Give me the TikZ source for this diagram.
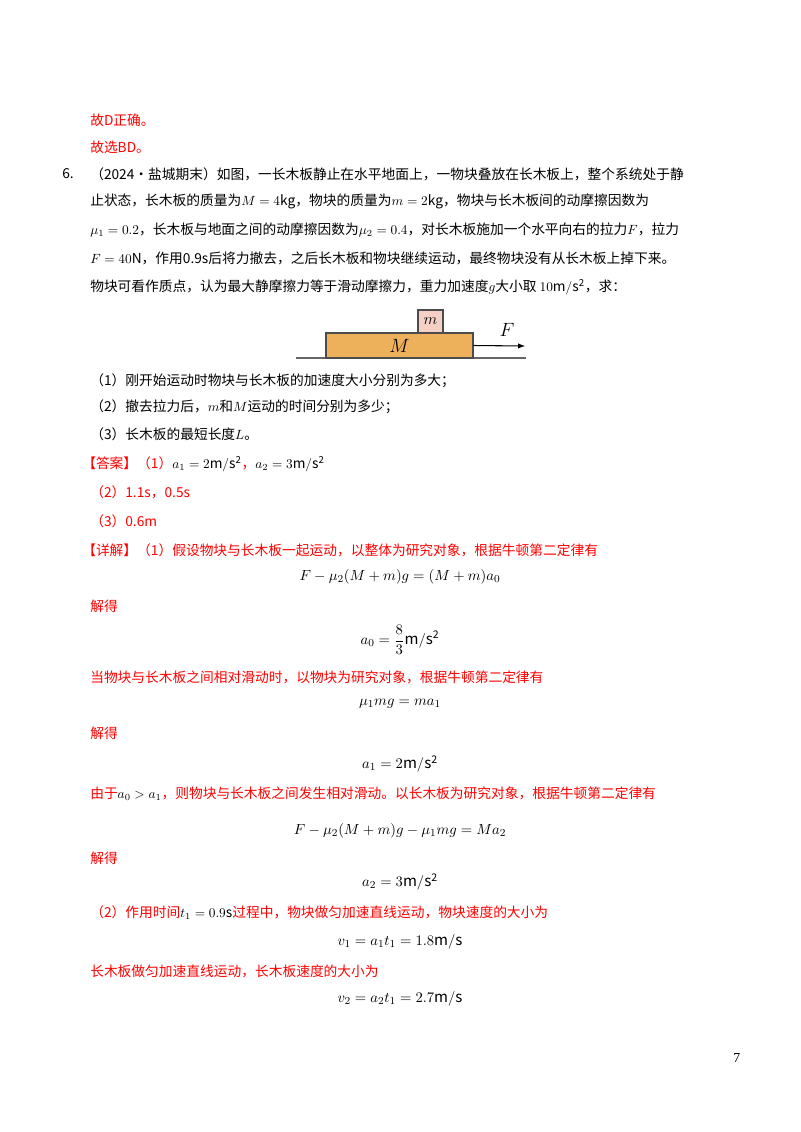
\documentclass[tikz,border=0pt]{standalone}
\usepackage{fontspec}
\setmainfont{Noto Sans CJK SC}
\newfontfamily\serif{Liberation Serif}
\definecolor{ansred}{RGB}{255,0,0}
\definecolor{boardc}{RGB}{237,177,92}
\definecolor{blockc}{RGB}{246,208,196}
\newcommand{\K}[1]{\textcolor{black}{$#1$}}
\begin{document}
\begin{tikzpicture}[x=0.75pt,y=-0.75pt,
  tl/.style={anchor=west,inner sep=0pt,font=\fontsize{10.3}{12}\selectfont},
  rl/.style={tl,text=ansred},
  eq/.style={anchor=center,inner sep=0pt,font=\fontsize{11.3}{13}\selectfont}]
\useasboundingbox (0,0) rectangle (800,1132);
\node[rl] (l1) at (90,120) {故D正确。};
\node[rl] (l2) at (90,147) {故选BD。};
\node[tl] (n6) at (62,174) {6.};
\node[tl] (q1) at (90,174) {（2024·盐城期末）如图，一长木板静止在水平地面上，一物块叠放在长木板上，整个系统处于静};
\node[tl] (q2) at (90,201) {止状态，长木板的质量为$M=4\mathrm{kg}$，物块的质量为$m=2\mathrm{kg}$，物块与长木板间的动摩擦因数为};
\node[tl] (q3) at (90,230) {$\mu_1=0.2$，长木板与地面之间的动摩擦因数为$\mu_2=0.4$，对长木板施加一个水平向右的拉力$F$，拉力};
\node[tl] (q4) at (90,258) {$F=40\mathrm{N}$，作用0.9s后将力撤去，之后长木板和物块继续运动，最终物块没有从长木板上掉下来。};
\node[tl] (q5) at (90,287) {物块可看作质点，认为最大静摩擦力等于滑动摩擦力，重力加速度$g$大小取 $10\mathrm{m/s^2}$，求：};
% figure
\coordinate (g1) at (296,358);
\coordinate (g2) at (526,358);
\draw[gray!80!black,line width=1pt] (g1) -- (g2);
\node[draw=black!70,fill=boardc,line width=0.8pt,minimum width=147*0.75pt,minimum height=25*0.75pt,inner sep=0pt] (board) at (399.5,345.5) {\fontsize{15}{16}\selectfont$M$};
\node[draw=black!70,fill=blockc,line width=0.8pt,minimum width=25*0.75pt,minimum height=23*0.75pt,inner sep=0pt] (block) at (430.5,321.5) {\fontsize{13}{14}\selectfont$m$};
\coordinate (fend) at (525,346);
\draw[-latex,line width=0.8pt] (board.east) -- (fend);
\node[inner sep=0pt] (F) at (507,330) {\fontsize{15}{16}\selectfont$F$};
% questions
\node[tl] (s1) at (90,381) {（1）刚开始运动时物块与长木板的加速度大小分别为多大；};
\node[tl] (s2) at (90,407) {（2）撤去拉力后，$m$和$M$运动的时间分别为多少；};
\node[tl] (s3) at (90,434) {（3）长木板的最短长度$L$。};
\node[rl] (a1) at (82,464) {【答案】（1）\K{a_1=2\mathrm{m/s^2}}，\K{a_2=3\mathrm{m/s^2}}};
\node[rl] (a2) at (90,492) {（2）1.1s，0.5s};
\node[rl] (a3) at (90,521) {（3）0.6m};
\node[rl] (d1) at (82,550) {【详解】（1）假设物块与长木板一起运动，以整体为研究对象，根据牛顿第二定律有};
\node[eq] (e1) at (400,577) {$F-\mu_2(M+m)g=(M+m)a_0$};
\node[rl] (j1) at (90,606) {解得};
\node[eq] (e2) at (400,640) {$\displaystyle a_0=\frac{8}{3}\mathrm{m/s^2}$};
\node[rl] (d2) at (90,677) {当物块与长木板之间相对滑动时，以物块为研究对象，根据牛顿第二定律有};
\node[eq] (e3) at (400,704) {$\mu_1 mg=ma_1$};
\node[rl] (j2) at (90,733) {解得};
\node[eq] (e4) at (400,764) {$a_1=2\mathrm{m/s^2}$};
\node[rl] (d3) at (90,794) {由于\K{a_0>a_1}，则物块与长木板之间发生相对滑动。以长木板为研究对象，根据牛顿第二定律有};
\node[eq] (e5) at (400,831) {$F-\mu_2(M+m)g-\mu_1 mg=Ma_2$};
\node[rl] (j3) at (90,858) {解得};
\node[eq] (e6) at (400,882) {$a_2=3\mathrm{m/s^2}$};
\node[rl] (d4) at (90,913) {（2）作用时间\K{t_1=0.9\mathrm{s}}过程中，物块做匀加速直线运动，物块速度的大小为};
\node[eq] (e7) at (400,942) {$v_1=a_1t_1=1.8\mathrm{m/s}$};
\node[rl] (d5) at (90,971) {长木板做匀加速直线运动，长木板速度的大小为};
\node[eq] (e8) at (400,999) {$v_2=a_2t_1=2.7\mathrm{m/s}$};
\node[tl] (pg) at (733,1058) {\serif 7};
\end{tikzpicture}
\end{document}
